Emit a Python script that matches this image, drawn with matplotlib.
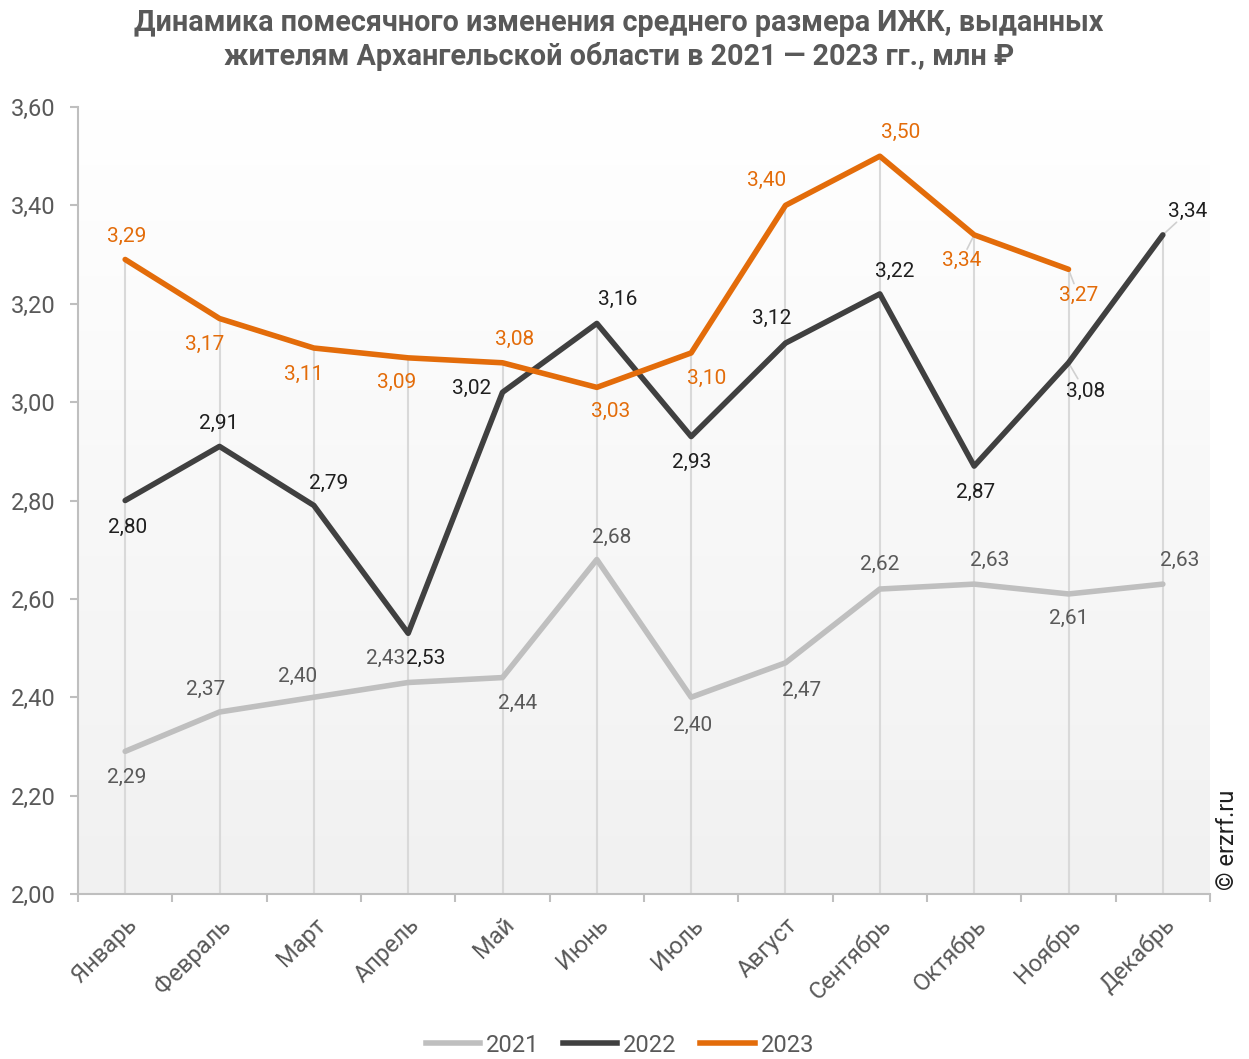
import matplotlib
matplotlib.use("Agg")
import matplotlib.pyplot as plt
import numpy as np
from matplotlib.lines import Line2D

plt.rcParams['font.family'] = ['Roboto', 'DejaVu Sans']

months = ["Январь", "Февраль", "Март", "Апрель", "Май", "Июнь", "Июль",
          "Август", "Сентябрь", "Октябрь", "Ноябрь", "Декабрь"]
v2021 = [2.29, 2.37, 2.40, 2.43, 2.44, 2.68, 2.40, 2.47, 2.62, 2.63, 2.61, 2.63]
v2022 = [2.80, 2.91, 2.79, 2.53, 3.02, 3.16, 2.93, 3.12, 3.22, 2.87, 3.08, 3.34]
v2023 = [3.29, 3.17, 3.11, 3.09, 3.08, 3.03, 3.10, 3.40, 3.50, 3.34, 3.27]
yticks = [2.00, 2.20, 2.40, 2.60, 2.80, 3.00, 3.20, 3.40, 3.60]

# label offsets in pixels (dx, dy with dy up positive)
off2021 = [(2, -26), (-14, 23), (-16, 21), (-23, 24), (15, -26), (15, 22),
           (1, -28), (16, -28), (0, 25), (16, 24), (0, -24), (17, 24)]
off2022 = [(2, -27), (-1, 23), (15, 22), (18, -25), (-31, 4), (21, 24),
           (1, -26), (-14, 25), (15, 23), (1, -26), (17, -29), (25, 23)]
off2023 = [(2, 23), (-15, -26), (-10, -26), (-12, -25), (12, 23), (14, -24),
           (15, -25), (-19, 25), (21, 24), (-13, -26), (10, -26)]
leaders2022 = {10, 11}
leaders2023 = {9, 10}

W, H = 1249, 1059
fig = plt.figure(figsize=(W / 100, H / 100), dpi=100)
ax = fig.add_axes([78 / W, 1 - 894 / H, (1210 - 78) / W, (894 - 107) / H])

x = np.arange(len(months))

# gradient background (white top -> light grey bottom)
grad = np.linspace(0, 1, 256).reshape(-1, 1)
top = np.array([1.0, 1.0, 1.0])
bot = np.array([0xf1, 0xf1, 0xf1]) / 255
img = top[None, None, :] * (1 - grad[:, :, None]) + bot[None, None, :] * grad[:, :, None]
ax.imshow(img, extent=[-0.5, 11.5, 2.0, 3.6], origin='upper', aspect='auto', zorder=0)
ax.set_xlim(-0.5, 11.5)
ax.set_ylim(2.0, 3.6)

# drop lines
tops = [max(v2021[i], v2022[i], v2023[i] if i < len(v2023) else 0) for i in range(12)]
ax.vlines(x, 2.0, tops, color='#d9d9d9', lw=1.5, zorder=1)

c21, c22, c23 = '#bfbfbf', '#404040', '#e36c0a'
for vals, c, z in ((v2021, c21, 3), (v2022, c22, 4), (v2023, c23, 5)):
    ax.plot(x[:len(vals)], vals, color=c, lw=4, zorder=z,
            solid_capstyle='round', solid_joinstyle='round')

def fmt(v):
    return f"{v:.2f}".replace('.', ',')

def labels(vals, offs, color, leaders=()):
    for i, (v, (dx, dy)) in enumerate(zip(vals, offs)):
        ax.annotate(fmt(v), (x[i], v), xytext=(dx * 0.72, dy * 0.72),
                    textcoords='offset points', ha='center', va='center',
                    fontsize=15, color=color, zorder=6)
        if i in leaders:
            ax.annotate('', (x[i], v), xytext=(dx * 0.72 * 0.55, dy * 0.72 * 0.55),
                        textcoords='offset points',
                        arrowprops=dict(arrowstyle='-', color='#d0d0d0', lw=1.2,
                                        shrinkA=0, shrinkB=0), zorder=2)

labels(v2021, off2021, '#595959')
labels(v2022, off2022, '#1f1f1f', leaders2022)
labels(v2023, off2023, c23, leaders2023)

# axes styling
for s in ['top', 'right']:
    ax.spines[s].set_visible(False)
for s in ['left', 'bottom']:
    ax.spines[s].set_color('#bfbfbf')
    ax.spines[s].set_linewidth(1.5)
ax.set_yticks(yticks)
ax.set_yticklabels([fmt(v) for v in yticks], fontsize=17, color='#595959')
ax.tick_params(axis='y', length=6, width=1.5, color='#bfbfbf', pad=10)
ax.set_xticks(np.arange(-0.5, 12, 1.0), minor=False)
ax.set_xticklabels([])
ax.tick_params(axis='x', which='major', length=6, width=1.5, color='#bfbfbf')
ax.set_xticks(x, minor=True)
ax.set_xticklabels(months, minor=True, rotation=45, ha='right', va='top',
                   rotation_mode='anchor', fontsize=17, color='#595959')
ax.tick_params(axis='x', which='minor', length=0, pad=14)

fig.text(619 / W, 1 - 40 / H,
         "Динамика помесячного изменения среднего размера ИЖК, выданных\n"
         "жителям Архангельской области в 2021 — 2023 гг., млн ₽",
         ha='center', va='center', fontsize=20.7, fontweight='bold',
         color='#595959', linespacing=1.2)

fig.text(1228 / W, 1 - 840 / H, "© erzrf.ru", rotation=90, ha='center',
         va='center', fontsize=17, color='#1f1f1f')

handles = [Line2D([], [], color=c, lw=4) for c in (c21, c22, c23)]
fig.legend(handles, ['2021', '2022', '2023'], loc='center',
           bbox_to_anchor=(620 / W, 1 - 1045 / H), ncol=3, frameon=False,
           fontsize=17, handlelength=2.3, columnspacing=1.0, handletextpad=0.25,
           labelcolor='#595959')

fig.savefig('out.png', dpi=100)
